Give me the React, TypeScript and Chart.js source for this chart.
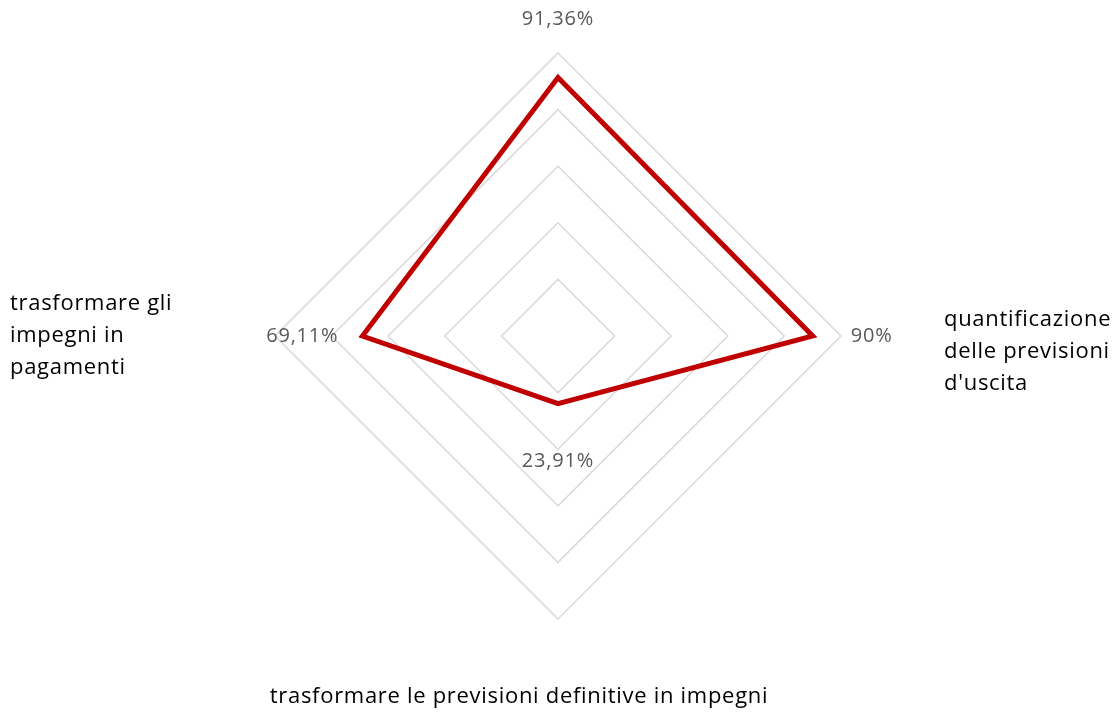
import React, { useEffect, useRef } from "react";
import { Chart, registerables } from "chart.js";

Chart.register(...registerables);

// ---- data ----
const categories: string[][] = [
  [""],
  ["quantificazione", "delle previsioni", "d'uscita"],
  ["trasformare le previsioni definitive in impegni"],
  ["trasformare gli", "impegni in", "pagamenti"],
];
const values: number[] = [91.36, 90, 23.91, 69.11];
const scaleMin = 0;
const scaleMax = 100;
const scaleStep = 20;

const fmt = (v: number) => String(v).replace(".", ",") + "%";

// ---- label placement (relative to marks / axis ends) ----
const valueLabelPlacement = [
  { dx: 0, dy: -58, align: "center" },
  { dx: 38, dy: 0, align: "left" },
  { dx: 0, dy: 58, align: "center" },
  { dx: -24, dy: 0, align: "right" },
];
const categoryPlacement = [
  { dx: 0, dy: -40, align: "center" },
  { dx: 103, dy: 16, align: "left" },
  { dx: -39, dy: 78, align: "center" },
  { dx: -265, dy: 0, align: "left" },
];

const labelsPlugin = {
  id: "customLabels",
  afterDatasetsDraw(chart: any) {
    const ctx = chart.ctx as any;
    const scale = chart.scales.r;
    const meta = chart.getDatasetMeta(0);
    ctx.save();
    ctx.textBaseline = "middle";
    ctx.font = "20px 'Open Sans'";
    ctx.letterSpacing = "0.8px";
    ctx.fillStyle = "#595959";
    meta.data.forEach((pt: any, i: number) => {
      const p = valueLabelPlacement[i];
      ctx.textAlign = p.align;
      ctx.fillText(fmt(values[i]), pt.x + p.dx, pt.y + p.dy);
    });
    ctx.font = "22px 'Open Sans'";
    ctx.letterSpacing = "0.7px";
    ctx.fillStyle = "#000000";
    const lh = 32;
    categories.forEach((lines, i) => {
      const v = scale.getPointPosition(i, scale.drawingArea);
      const p = categoryPlacement[i];
      ctx.textAlign = p.align;
      const y0 = v.y + p.dy - ((lines.length - 1) * lh) / 2;
      lines.forEach((ln, j) => {
        ctx.fillText(ln, v.x + p.dx, y0 + j * lh);
      });
    });
    ctx.restore();
  },
};

export default function App() {
  const ref = useRef<HTMLCanvasElement | null>(null);
  useEffect(() => {
    if (!ref.current) return;
    const chart = new Chart(ref.current, {
      type: "radar",
      data: {
        labels: categories,
        datasets: [
          {
            data: values,
            borderColor: "#c00000",
            borderWidth: 5,
            borderJoinStyle: "miter",
            fill: false,
            pointRadius: 0,
            pointHoverRadius: 0,
          },
        ],
      },
      options: {
        responsive: false,
        animation: false,
        layout: { padding: { top: 53, bottom: 96, left: 2, right: 0 } },
        plugins: { legend: { display: false }, tooltip: { enabled: false } },
        scales: {
          r: {
            min: scaleMin,
            max: scaleMax,
            ticks: { stepSize: scaleStep, display: false },
            grid: { color: "#d9d9d9", lineWidth: 1.5 },
            angleLines: { display: false },
            pointLabels: { display: false },
          },
        },
      },
      plugins: [labelsPlugin],
    });
    return () => chart.destroy();
  }, []);
  return (
    <div style={{ position: "fixed", left: 0, top: 0, width: 1115, height: 715, background: "#fff" }}>
      <canvas ref={ref} width={1115} height={715} style={{ display: "block" }} />
    </div>
  );
}
